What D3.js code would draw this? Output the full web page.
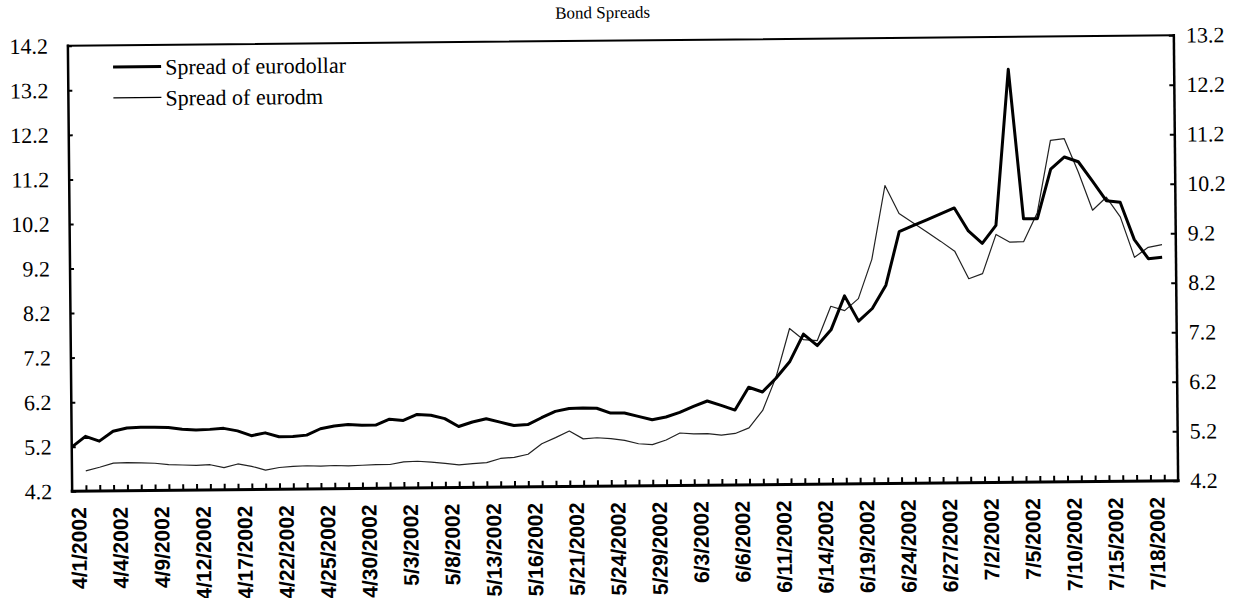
<!DOCTYPE html>
<html lang="en">
  <head>
    <meta charset="utf-8" />
    <title>Bond Spreads</title>
    <script src="https://d3js.org/d3.v7.min.js"></script>
    <style>
      body { margin: 0; background: #fff; }
      svg { display: block; }
    </style>
  </head>
  <body>
    <script>
      // business days, 4/1/2002 .. 7/19/2002
      var dates = [
        "4/1/2002", "4/2/2002", "4/3/2002", "4/4/2002", "4/5/2002",
        "4/8/2002", "4/9/2002", "4/10/2002", "4/11/2002", "4/12/2002",
        "4/15/2002", "4/16/2002", "4/17/2002", "4/18/2002", "4/19/2002",
        "4/22/2002", "4/23/2002", "4/24/2002", "4/25/2002", "4/26/2002",
        "4/29/2002", "4/30/2002", "5/1/2002", "5/2/2002", "5/3/2002",
        "5/6/2002", "5/7/2002", "5/8/2002", "5/9/2002", "5/10/2002",
        "5/13/2002", "5/14/2002", "5/15/2002", "5/16/2002", "5/17/2002",
        "5/20/2002", "5/21/2002", "5/22/2002", "5/23/2002", "5/24/2002",
        "5/27/2002", "5/28/2002", "5/29/2002", "5/30/2002", "5/31/2002",
        "6/3/2002", "6/4/2002", "6/5/2002", "6/6/2002", "6/7/2002",
        "6/10/2002", "6/11/2002", "6/12/2002", "6/13/2002", "6/14/2002",
        "6/17/2002", "6/18/2002", "6/19/2002", "6/20/2002", "6/21/2002",
        "6/24/2002", "6/25/2002", "6/26/2002", "6/27/2002", "6/28/2002",
        "7/1/2002", "7/2/2002", "7/3/2002", "7/4/2002", "7/5/2002",
        "7/8/2002", "7/9/2002", "7/10/2002", "7/11/2002", "7/12/2002",
        "7/15/2002", "7/16/2002", "7/17/2002", "7/18/2002", "7/19/2002"
      ];

      var tickLabels = [
        "4/1/2002", "4/4/2002", "4/9/2002", "4/12/2002", "4/17/2002",
        "4/22/2002", "4/25/2002", "4/30/2002", "5/3/2002", "5/8/2002",
        "5/13/2002", "5/16/2002", "5/21/2002", "5/24/2002", "5/29/2002",
        "6/3/2002", "6/6/2002", "6/11/2002", "6/14/2002", "6/19/2002",
        "6/24/2002", "6/27/2002", "7/2/2002", "7/5/2002", "7/10/2002",
        "7/15/2002", "7/18/2002"
      ];

      // left axis
      var eurodollar = [
        5.19, 5.43, 5.32, 5.54, 5.61, 5.62, 5.62, 5.61, 5.57, 5.55,
        5.56, 5.58, 5.52, 5.41, 5.47, 5.38, 5.38, 5.41, 5.55, 5.61,
        5.64, 5.62, 5.62, 5.75, 5.72, 5.85, 5.83, 5.75, 5.57, 5.67,
        5.74, 5.66, 5.58, 5.6, 5.75, 5.89, 5.95, 5.96, 5.95, 5.84,
        5.84, 5.76, 5.68, 5.74, 5.84, 5.97, 6.09, 5.99, 5.88, 6.39,
        6.28, 6.59, 6.96, 7.57, 7.31, 7.66, 8.42, 7.85, 8.13, 8.65,
        9.85, 9.98, 10.11, 10.24, 10.37, 9.85, 9.57, 9.97, 13.47, 10.11,
        10.11, 11.22, 11.49, 11.38, 10.95, 10.5, 10.46, 9.62, 9.19, 9.22
      ];

      // right axis
      var eurodm = [
        null, 4.61, 4.68, 4.76, 4.77, 4.76, 4.75, 4.72, 4.71, 4.7,
        4.71, 4.65, 4.72, 4.67, 4.59, 4.64, 4.66, 4.67, 4.66, 4.67,
        4.66, 4.67, 4.68, 4.68, 4.73, 4.74, 4.72, 4.69, 4.66, 4.68,
        4.7, 4.78, 4.8, 4.86, 5.07, 5.19, 5.32, 5.16, 5.18, 5.16,
        5.12, 5.05, 5.03, 5.12, 5.26, 5.24, 5.24, 5.21, 5.24, 5.35,
        5.7, 6.38, 7.35, 7.12, 7.1, 7.79, 7.7, 7.94, 8.73, 10.22,
        9.65, 9.46, 9.27, 9.08, 8.88, 8.32, 8.42, 9.21, 9.05, 9.06,
        9.64, 11.1, 11.13, 10.45, 9.68, 9.94, 9.54, 8.72, 8.92, 8.97
      ];

      var leftTicks = [4.2, 5.2, 6.2, 7.2, 8.2, 9.2, 10.2, 11.2, 12.2, 13.2, 14.2];
      var rightTicks = [4.2, 5.2, 6.2, 7.2, 8.2, 9.2, 10.2, 11.2, 12.2, 13.2];
      var seriesNames = ["Spread of eurodollar", "Spread of eurodm"];

      (function () {
        var W = 1238, H = 598;
        var margin = { top: 40.5, right: 62, bottom: 112, left: 70 };
        var x0 = margin.left, x1 = W - margin.right;
        var y0 = margin.top, y1 = H - margin.bottom;
        var serif = "'Liberation Serif', 'Times New Roman', serif";

        var x = d3.scaleLinear().domain([0, dates.length]).range([x0, x1]);
        var yL = d3.scaleLinear().domain([4.2, 14.2]).range([y1, y0]);
        var yR = d3.scaleLinear().domain([4.2, 13.2]).range([y1, y0]);

        var svg = d3
          .select("body")
          .append("svg")
          .attr("width", W)
          .attr("height", H);

        // the scanned original is tilted a little
        var g = svg.append("g").attr("transform", "rotate(-0.55,622,263)");

        g.append("text")
          .attr("x", 605)
          .attr("y", 18)
          .attr("text-anchor", "middle")
          .style("font-family", serif)
          .style("font-size", "17px")
          .text("Bond Spreads");

        // x ticks, pointing inwards
        g.append("g")
          .attr("transform", "translate(0," + y1 + ")")
          .call(
            d3.axisBottom(x)
              .tickValues(d3.range(1, dates.length))
              .tickSize(-6)
              .tickFormat("")
          )
          .call(function (a) { a.select(".domain").remove(); })
          .selectAll("line")
          .attr("stroke", "#000")
          .attr("stroke-width", 2);

        // x labels
        var labelIdx = tickLabels.map(function (d) { return dates.indexOf(d); });
        g.append("g")
          .attr("transform", "translate(0," + y1 + ")")
          .call(
            d3.axisBottom(x)
              .tickValues(labelIdx)
              .tickSize(0)
              .tickFormat(function (i) { return dates[i]; })
          )
          .call(function (a) { a.select(".domain").remove(); })
          .selectAll("text")
          .attr("transform", "rotate(-90)")
          .attr("x", -16)
          .attr("y", 6)
          .attr("dy", "0.35em")
          .attr("text-anchor", "end")
          .style("font-family", "'Liberation Sans', Arial, sans-serif")
          .style("font-weight", "bold")
          .style("font-size", "21px")
          .attr("fill", "#000");

        // left axis
        g.append("g")
          .attr("transform", "translate(" + x0 + ",0)")
          .call(
            d3.axisLeft(yL)
              .tickValues(leftTicks)
              .tickSizeInner(-4)
              .tickSizeOuter(0)
              .tickPadding(20)
              .tickFormat(d3.format(".1f"))
          )
          .call(function (a) {
            a.select(".domain").remove();
            a.selectAll("text")
              .style("font-family", serif)
              .style("font-size", "22px")
              .attr("fill", "#000");
            a.selectAll("line").attr("stroke", "#000").attr("stroke-width", 2);
          });

        // right axis
        g.append("g")
          .attr("transform", "translate(" + x1 + ",0)")
          .call(
            d3.axisRight(yR)
              .tickValues(rightTicks)
              .tickSizeInner(-5)
              .tickSizeOuter(0)
              .tickPadding(12)
              .tickFormat(d3.format(".1f"))
          )
          .call(function (a) {
            a.select(".domain").remove();
            a.selectAll("text")
              .style("font-family", serif)
              .style("font-size", "22px")
              .attr("fill", "#000");
            a.selectAll("line").attr("stroke", "#000").attr("stroke-width", 2);
          });

        // frame
        var frame = [
          [x0, y0, x1, y0, 2],
          [x0, y0, x0, y1, 2.5],
          [x1, y0, x1, y1, 2.5],
          [x0, y1, x1, y1, 3]
        ];
        g.selectAll(".frame")
          .data(frame)
          .enter()
          .append("line")
          .attr("class", "frame")
          .attr("x1", function (d) { return d[0]; })
          .attr("y1", function (d) { return d[1]; })
          .attr("x2", function (d) { return d[2]; })
          .attr("y2", function (d) { return d[3]; })
          .attr("stroke", "#000")
          .attr("stroke-width", function (d) { return d[4]; })
          .attr("stroke-linecap", "square");

        var lineL = d3.line()
          .defined(function (d) { return d != null; })
          .x(function (d, i) { return x(i); })
          .y(function (d) { return yL(d); });
        var lineR = d3.line()
          .defined(function (d) { return d != null; })
          .x(function (d, i) { return x(i); })
          .y(function (d) { return yR(d); });

        g.append("path")
          .datum(eurodm)
          .attr("fill", "none")
          .attr("stroke", "#222")
          .attr("stroke-width", 1.2)
          .attr("stroke-linejoin", "round")
          .attr("d", lineR);

        g.append("path")
          .datum(eurodollar)
          .attr("fill", "none")
          .attr("stroke", "#000")
          .attr("stroke-width", 3)
          .attr("stroke-linejoin", "round")
          .attr("d", lineL);

        // legend
        var legend = g.selectAll(".legend")
          .data(seriesNames)
          .enter()
          .append("g")
          .attr("class", "legend")
          .attr("transform", function (d, i) {
            return "translate(115," + (62 + i * 31) + ")";
          });

        legend.append("line")
          .attr("x1", 0)
          .attr("x2", 48)
          .attr("stroke", "#000")
          .attr("stroke-width", function (d, i) { return i === 0 ? 3 : 1.2; });

        legend.append("text")
          .attr("x", 52)
          .attr("y", 8)
          .style("font-family", serif)
          .style("font-size", "22px")
          .text(function (d) { return d; });
      })();
    </script>
  </body>
</html>
